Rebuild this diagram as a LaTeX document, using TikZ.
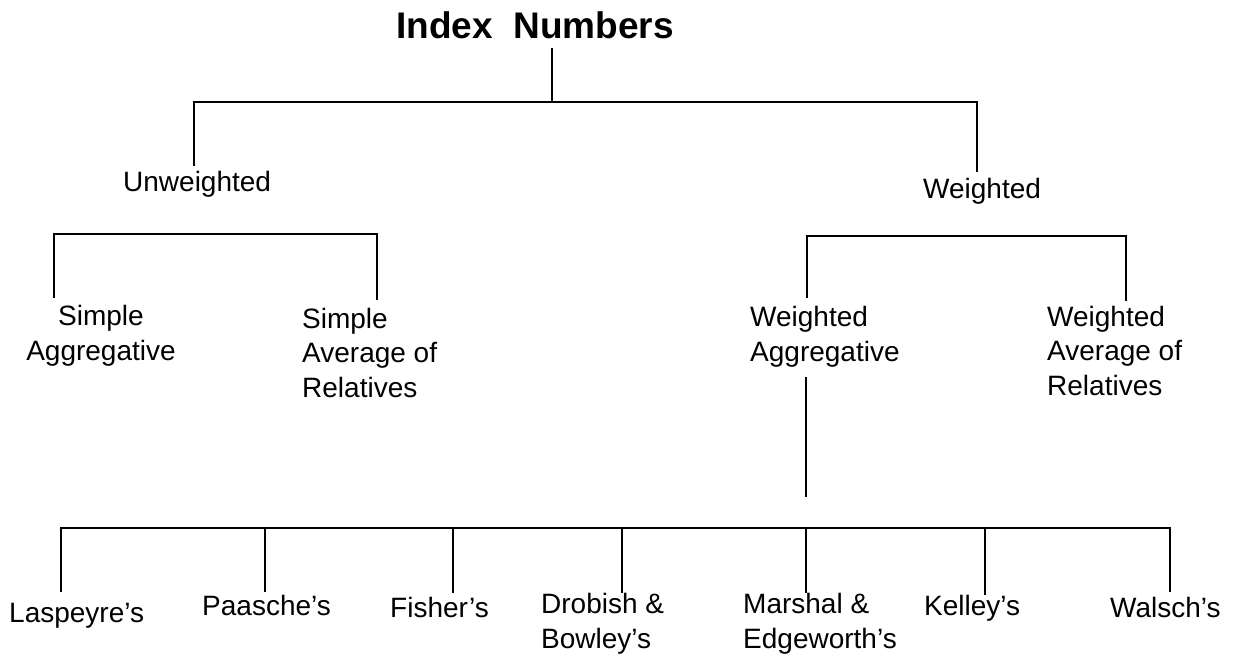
\documentclass[tikz,border=0pt]{standalone}
\usepackage{fontspec}
\setmainfont{Liberation Sans}

\begin{document}
\begin{tikzpicture}[
    x=1pt, y=-1pt,
    title/.style={font=\fontsize{37}{44}\selectfont\bfseries, inner sep=0pt, anchor=base},
    label/.style={font=\fontsize{28}{34.5}\selectfont, inner sep=0pt, anchor=base west, align=left},
    clabel/.style={label, anchor=base, align=center},
    branch/.style={line width=1.8pt}
]
    \useasboundingbox (0,0) rectangle (1235,658);

    % Title
    \node[title] (index) at (535,39) {Index\ \ Numbers};
    \coordinate (index-out) at (552,48);
    \coordinate (top-bar) at (552,102);

    % Unweighted / Weighted
    \node[label] (unw) at (123,192) {Unweighted};
    \node[label] (wtd) at (923,198) {Weighted};
    \coordinate (unw-in) at (194,166);
    \coordinate (wtd-in) at (977,172);

    % Unweighted kinds (base = last line)
    \node[clabel] (sagg) at (101,360) {Simple\\Aggregative};
    \node[label] (savg) at (302,397) {Simple\\Average of\\Relatives};
    \coordinate (sagg-in) at (54,298);
    \coordinate (savg-in) at (377,300);
    \coordinate (unw-bar) at (0,234);

    % Weighted kinds
    \node[label] (wagg) at (750,361) {Weighted\\Aggregative};
    \node[label] (wavg) at (1047,395) {Weighted\\Average of\\Relatives};
    \coordinate (wagg-in) at (807,298);
    \coordinate (wavg-in) at (1126,301);
    \coordinate (wtd-bar) at (0,236);
    \coordinate (wagg-out) at (806,377);
    \coordinate (wagg-end) at (806,497);

    % Weighted aggregative formulas
    \node[label] (lasp) at (9,622) {Laspeyre's};
    \node[label] (paas) at (202,615) {Paasche's};
    \node[label] (fish) at (390,617) {Fisher's};
    \node[label] (drob) at (541,648) {Drobish \&\\Bowley's};
    \node[label] (mars) at (743,648) {Marshal \&\\Edgeworth's};
    \node[label] (kell) at (924,615) {Kelley's};
    \node[label] (wals) at (1110,617) {Walsch's};
    \coordinate (bottom-bar) at (0,528);
    \coordinate (lasp-in) at (61,592);
    \coordinate (paas-in) at (265,592);
    \coordinate (fish-in) at (453,593);
    \coordinate (drob-in) at (622,593);
    \coordinate (mars-in) at (806,593);
    \coordinate (kell-in) at (985,595);
    \coordinate (wals-in) at (1170,592);

    % Connectors
    \draw[branch] (index-out) -- (top-bar);
    \draw[branch] (unw-in) -- (unw-in |- top-bar) -- (wtd-in |- top-bar) -- (wtd-in);
    \draw[branch] (sagg-in) -- (sagg-in |- unw-bar) -- (savg-in |- unw-bar) -- (savg-in);
    \draw[branch] (wagg-in) -- (wagg-in |- wtd-bar) -- (wavg-in |- wtd-bar) -- (wavg-in);
    \draw[branch] (wagg-out) -- (wagg-end);
    \draw[branch] (lasp-in) -- (lasp-in |- bottom-bar) -- (wals-in |- bottom-bar) -- (wals-in);
    \foreach \leg in {paas, fish, drob, mars, kell}
        \draw[branch] (\leg-in) -- (\leg-in |- bottom-bar);

\end{tikzpicture}
\end{document}
